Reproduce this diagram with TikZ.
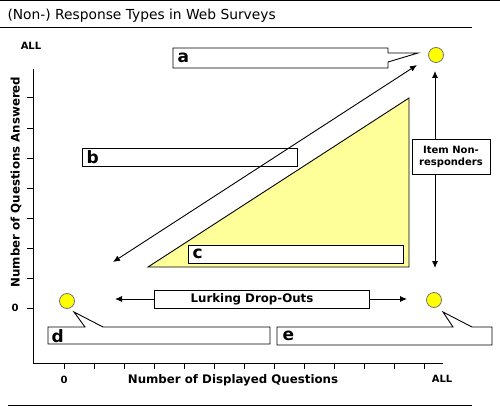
\documentclass[tikz,border=0pt]{standalone}
\usepackage{fontspec}
\setmainfont{DejaVu Sans}
\usetikzlibrary{arrows.meta}
\definecolor{paleyellow}{RGB}{255,255,153}
\definecolor{dotyellow}{RGB}{255,255,0}
\definecolor{navy}{RGB}{0,0,90}
\begin{document}
\begin{tikzpicture}[x=1pt,y=-1pt, line width=1pt,
  callout/.style={draw=black, fill=white, line width=0.9pt},
  tag/.style={anchor=west, font=\fontsize{17}{17}\selectfont\bfseries, inner sep=0pt},
  dot/.style={circle, draw=black!55, fill=dotyellow, minimum size=15pt, inner sep=0pt, line width=0.8pt},
  lbl/.style={font=\fontsize{10}{12}\selectfont\bfseries},
  biglbl/.style={font=\fontsize{11.8}{13}\selectfont\bfseries},
  arr/.style={-{Latex[length=7pt,width=6pt]}, line width=0.9pt},
  darr/.style={{Latex[length=7pt,width=6pt]}-{Latex[length=7pt,width=6pt]}, line width=0.9pt},
  labbox/.style={draw, fill=white, lbl, inner sep=1pt, line width=0.9pt}
]
\useasboundingbox (0,0) rectangle (500,409);
\fill[white] (0,0) rectangle (500,409);
% rules
\draw (0,1) -- (500,1);
\draw (0,28) -- (472,28);
\draw (8,405) -- (472,405);
\node[anchor=west, inner sep=0pt, font=\fontsize{13.8}{15}\selectfont] (title) at (7,16) {(Non-) Response Types in Web Surveys};
% axes
\draw (33,69) -- (33,363) -- (443,363);
\foreach \y in {98,128,...,308} \draw (27,\y) -- (33,\y);
\foreach \x in {64,94,...,424} \draw (\x,363) -- (\x,369);
\node[lbl] (yall) at (31,46) {ALL};
\node[lbl] (y0) at (15,308) {0};
\node[lbl] (x0) at (64,380) {0};
\node[lbl] (xall) at (442,379) {ALL};
\node[biglbl] (xlab) at (233,380) {Number of Displayed Questions};
\node[biglbl, rotate=90] (ylab) at (16,182) {Number of Questions Answered};
% triangle
\filldraw[fill=paleyellow, line width=0.9pt] (148,267) -- (409,98) -- (409,267) -- cycle;
% callouts
\filldraw[callout] (173,48) -- (388,48) -- (388,53) -- (418,53) -- (388,62) -- (388,68) -- (173,68) -- cycle;
\node[tag] (la) at (177,58) {a};
\filldraw[callout] (82,148) rectangle (297,166);
\node[tag] (lb) at (86,157) {b};
\filldraw[callout] (188,245) rectangle (403,263);
\node[tag] (lc) at (192,254) {c};
\filldraw[callout] (48,327) -- (85,327) -- (74,312) -- (103,327) -- (270,327) -- (270,344) -- (48,344) -- cycle;
\node[tag] (ld) at (51,336) {d};
\filldraw[callout] (277,327) -- (453,327) -- (443,312) -- (472,327) -- (492,327) -- (492,345) -- (277,345) -- cycle;
\node[tag] (le) at (282,336) {e};
% dots
\node[dot] (ca) at (436,55) {};
\node[dot] (cd) at (67,301) {};
\node[dot] (ce) at (434,300) {};
% diagonal arrow
\coordinate (dt) at (417,65);
\coordinate (db) at (113,262);
\draw[darr] (dt) -- (db);
% vertical arrow
\coordinate (vt) at (435,71);
\coordinate (vb) at (435,268);
\draw[darr] (vt) -- (vb);
\node[labbox, minimum width=78pt, minimum height=35pt, align=center] (inr) at (451,156.5) {Item Non-\\responders};
% lurking
\node[draw, fill=white, minimum width=215pt, minimum height=18pt, inner sep=0pt, line width=0.9pt] (lurk) at (261.5,299) {};
\node[biglbl, inner sep=0pt] (lurktxt) at (252,299) {Lurking Drop-Outs};
\coordinate (lurkL) at (115,299);
\coordinate (lurkR) at (407,299);
\draw[arr] (lurk.west) -- (lurkL);
\draw[arr] (lurk.east) -- (lurkR);
\end{tikzpicture}
\end{document}
